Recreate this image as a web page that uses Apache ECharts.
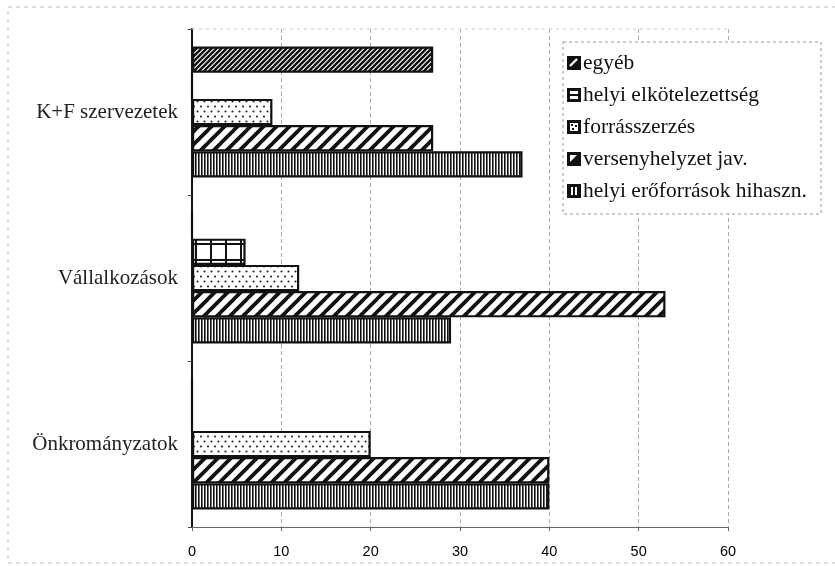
<!DOCTYPE html>
<html>
<head>
<meta charset="utf-8">
<script src="https://cdn.jsdelivr.net/npm/echarts@6/dist/echarts.min.js"></script>
<style>
  html, body { margin: 0; padding: 0; background: #fff; }
  #chart { width: 835px; height: 566px; }
</style>
</head>
<body>
<div id="chart"></div>
<script>
// Categories, bottom to top on the vertical axis
const categories = ['Önkrományzatok', 'Vállalkozások', 'K+F szervezetek'];

// Series names (legend order, top to bottom)
const seriesNames = ['egyéb', 'helyi elkötelezettség', 'forrásszerzés', 'versenyhelyzet jav.', 'helyi erőforrások hihaszn.'];

// Values per series, aligned with categories
const egyeb = [0, 0, 27];
const helyiElkotelezettseg = [0, 6, 0];
const forrasszerzes = [20, 12, 9];
const versenyhelyzet = [40, 53, 27];
const helyiEroforrasok = [40, 29, 37];

const xTicks = { min: 0, max: 60, interval: 10 };

// --- fill patterns -------------------------------------------------------
function tile(w, h, draw) {
  const c = document.createElement('canvas');
  c.width = w; c.height = h;
  const g = c.getContext('2d');
  g.fillStyle = '#fff';
  g.fillRect(0, 0, w, h);
  draw(g, w, h);
  return c;
}
function diag(s, lw) {
  return tile(s, s, function (g) {
    g.strokeStyle = '#111';
    g.lineWidth = lw;
    g.beginPath();
    g.moveTo(-1, s + 1); g.lineTo(s + 1, -1);
    g.moveTo(-s - 1, s + 1); g.lineTo(1, -1);
    g.moveTo(s - 1, s + 1); g.lineTo(2 * s + 1, -1);
    g.stroke();
  });
}
const patFine = diag(5, 2.4);
const patWide = diag(13, 3.8);
const patDots = tile(7, 10, function (g) {
  g.fillStyle = '#222';
  g.beginPath(); g.arc(1.5, 1.5, 1.05, 0, Math.PI * 2); g.fill();
  g.beginPath(); g.arc(5, 6.5, 1.05, 0, Math.PI * 2); g.fill();
});
const patGrid = tile(15, 16, function (g) {
  g.fillStyle = '#111';
  g.fillRect(0, 0, 2, 16);
  g.fillRect(0, 3, 15, 2);
});
const patVert = tile(3, 4, function (g) {
  g.fillStyle = '#111';
  g.fillRect(0, 0, 1.6, 4);
});

// --- legend icons ---------------------------------------------------------
function icon(draw) {
  const c = document.createElement('canvas');
  c.width = 14; c.height = 14;
  const g = c.getContext('2d');
  g.fillStyle = '#111';
  g.fillRect(0, 0, 14, 14);
  g.fillStyle = '#fff';
  g.strokeStyle = '#fff';
  draw(g);
  return 'image://' + c.toDataURL();
}
const icons = [
  icon(function (g) { g.lineWidth = 2.4; g.beginPath(); g.moveTo(3, 10); g.lineTo(10, 3); g.stroke(); }),
  icon(function (g) { g.fillRect(3, 3, 8, 3); g.fillRect(3, 8, 8, 3); }),
  icon(function (g) { g.fillRect(3, 3, 8, 8); g.fillStyle = '#111'; g.fillRect(4, 4, 2, 2); g.fillRect(8, 5, 2, 2); g.fillRect(5, 8, 2, 2); }),
  icon(function (g) { g.beginPath(); g.moveTo(3, 3); g.lineTo(10, 3); g.lineTo(3, 10); g.closePath(); g.fill(); }),
  icon(function (g) { g.fillRect(4, 3, 2, 8); g.fillRect(8, 3, 2, 8); })
];

const fills = [patFine, patGrid, patDots, patWide, patVert];
const dataSets = [egyeb, helyiElkotelezettseg, forrasszerzes, versenyhelyzet, helyiEroforrasok];

const serif = '"Liberation Serif", "DejaVu Serif", serif';
const sans = '"Liberation Sans", Arial, sans-serif';

const series = seriesNames.map(function (name, i) {
  return {
    name: name,
    type: 'bar',
    data: dataSets[i],
    barGap: '0%',
    barCategoryGap: '21%',
    itemStyle: {
      color: { image: fills[i], repeat: 'repeat' },
      borderColor: '#111',
      borderWidth: 2.2
    },
    emphasis: { disabled: true },
    animation: false
  };
});

const chart = echarts.init(document.getElementById('chart'), null, { renderer: 'canvas' });
chart.setOption({
  backgroundColor: '#fff',
  animation: false,
  grid: { left: 192, right: 107, top: 29, bottom: 39 },
  xAxis: {
    type: 'value',
    min: xTicks.min, max: xTicks.max, interval: xTicks.interval,
    axisLine: { show: true, lineStyle: { color: '#666', width: 1 } },
    axisTick: { show: true, length: 4, lineStyle: { color: '#666' } },
    axisLabel: { color: '#000', fontFamily: sans, fontSize: 14.5, margin: 17 },
    splitLine: { show: true, lineStyle: { color: '#aaa', type: [4, 3], width: 1 } }
  },
  yAxis: {
    type: 'category',
    data: categories,
    axisLine: { show: true, lineStyle: { color: '#111', width: 2 } },
    axisTick: { show: true, length: 4, lineStyle: { color: '#444' } },
    axisLabel: { color: '#222', fontFamily: serif, fontSize: 21, margin: 14 },
    splitLine: { show: false }
  },
  legend: {
    orient: 'vertical',
    left: 567, top: 52,
    z: 20,
    padding: 0,
    itemWidth: 14, itemHeight: 14,
    itemGap: 10,
    textStyle: { color: '#111', fontFamily: serif, fontSize: 21.5, padding: [0, 0, 0, -3] },
    data: seriesNames.map(function (n, i) { return { name: n, icon: icons[i] }; }),
    selectedMode: false
  },
  graphic: [
    {
      type: 'rect', z: 1, silent: true,
      shape: { x: 563, y: 42, width: 258, height: 172 },
      style: { fill: '#fff', stroke: '#999', lineWidth: 1, lineDash: [3, 3] }
    },
    {
      type: 'rect', z: -1, silent: true,
      shape: { x: 8, y: 7, width: 840, height: 556 },
      style: { fill: 'none', stroke: '#bbb', lineWidth: 1, lineDash: [4, 4] }
    },
    {
      type: 'line', z: 1, silent: true,
      shape: { x1: 192, y1: 29, x2: 728, y2: 29 },
      style: { stroke: '#ccc', lineWidth: 1, lineDash: [3, 4] }
    }
  ],
  series: series
});
</script>
</body>
</html>
